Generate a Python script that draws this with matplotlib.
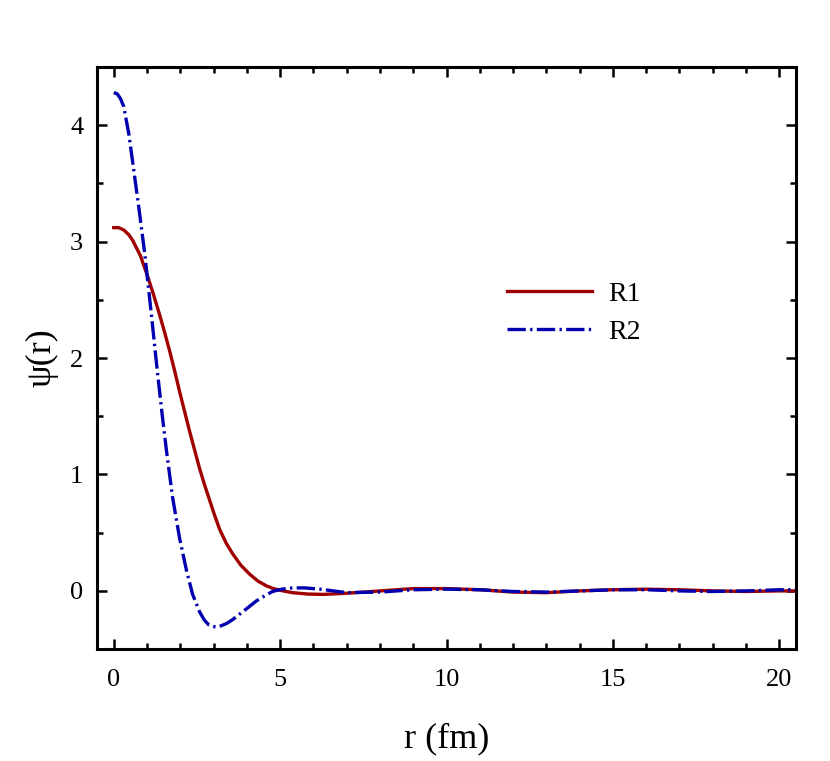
import matplotlib
matplotlib.use("Agg")
import matplotlib.pyplot as plt
from matplotlib.ticker import MultipleLocator

r1_x = [0.0, 0.15, 0.3, 0.45, 0.57, 0.8, 1.02, 1.2, 1.38, 1.53, 1.68, 1.83, 1.98, 2.13, 2.28, 2.43, 2.58,
        2.73, 2.88, 3.03, 3.18, 3.38, 3.57, 3.82, 4.08, 4.33, 4.59, 4.8, 5.0, 5.37, 5.83, 6.3, 7.0, 7.5,
        8.0, 9.0, 10.0, 11.0, 12.0, 13.0, 14.0, 15.0, 16.0, 17.0, 18.0, 19.0, 20.0, 20.5]
r1_y = [3.12, 3.12, 3.10, 3.06, 3.01, 2.88, 2.70, 2.54, 2.37, 2.22, 2.06, 1.89, 1.71, 1.54, 1.37, 1.21, 1.05,
        0.91, 0.78, 0.65, 0.53, 0.41, 0.32, 0.22, 0.145, 0.085, 0.043, 0.02, 0.005, -0.015, -0.027, -0.03, -0.02, -0.01,
        0.0, 0.02, 0.02, 0.01, -0.01, -0.015, 0.0, 0.01, 0.015, 0.01, 0.0, -0.005, 0.0, 0.0]

r2_x = [0.0, 0.1, 0.2, 0.3, 0.45, 0.57, 0.75, 0.93, 1.14, 1.29, 1.44, 1.59, 1.77, 1.98, 2.19, 2.37,
        2.58, 2.72, 2.85, 2.97, 3.09, 3.22, 3.39, 3.58, 3.78, 4.05, 4.29, 4.55, 4.77, 5.05, 5.37, 5.73, 6.2, 7.0,
        8.0, 9.0, 10.0, 11.0, 12.0, 13.0, 14.0, 15.0, 16.0, 17.0, 18.0, 19.0, 20.0, 20.5]
r2_y = [4.28, 4.27, 4.23, 4.16, 3.93, 3.68, 3.30, 2.90, 2.35, 1.94, 1.55, 1.19, 0.80, 0.45, 0.17, -0.03,
        -0.18, -0.25, -0.29, -0.305, -0.31, -0.30, -0.28, -0.245, -0.20, -0.14, -0.085, -0.04, -0.005, 0.015, 0.026, 0.026, 0.015, -0.015,
        -0.01, 0.01, 0.015, 0.01, -0.005, -0.01, 0.0, 0.01, 0.01, 0.0, -0.005, 0.0, 0.01, 0.01]

labels = ["R1", "R2"]
x_ticks = [0, 5, 10, 15, 20]
y_ticks = [0, 1, 2, 3, 4]

plt.rcParams['font.family'] = ['Liberation Serif', 'DejaVu Serif']

fig = plt.figure(figsize=(8.3, 7.61), dpi=100)
ax = fig.add_axes([0.117, 0.147, 0.842, 0.765])

ax.plot(r1_x, r1_y, color='#a00000', lw=2.4, label=labels[0])
ax.plot(r2_x, r2_y, color='#0000b0', lw=2.4, dashes=(5.5, 1.3, 0.7, 1.3), label=labels[1])

ax.set_xlim(-0.5, 20.5)
ax.set_ylim(-0.5, 4.5)
ax.set_xticks(x_ticks)
ax.set_yticks(y_ticks)
ax.xaxis.set_minor_locator(MultipleLocator(1))
ax.yaxis.set_minor_locator(MultipleLocator(0.5))
ax.tick_params(which='both', direction='in', top=True, right=True, width=1.8, labelsize=19)
ax.tick_params(axis='x', which='major', pad=14)
ax.tick_params(axis='y', which='major', pad=10)
ax.tick_params(which='major', length=7)
ax.tick_params(which='minor', length=4.5)
for s in ax.spines.values():
    s.set_linewidth(2.2)

ax.set_xlabel('r (fm)', fontsize=26, labelpad=23)
ax.set_ylabel('ψ(r)', fontsize=26, labelpad=8)

ax.legend(loc='upper left', bbox_to_anchor=(0.551, 0.674), frameon=False, fontsize=20,
          handlelength=3.05, handletextpad=0.58, labelspacing=0.45)

fig.savefig('out.png', dpi=100)
